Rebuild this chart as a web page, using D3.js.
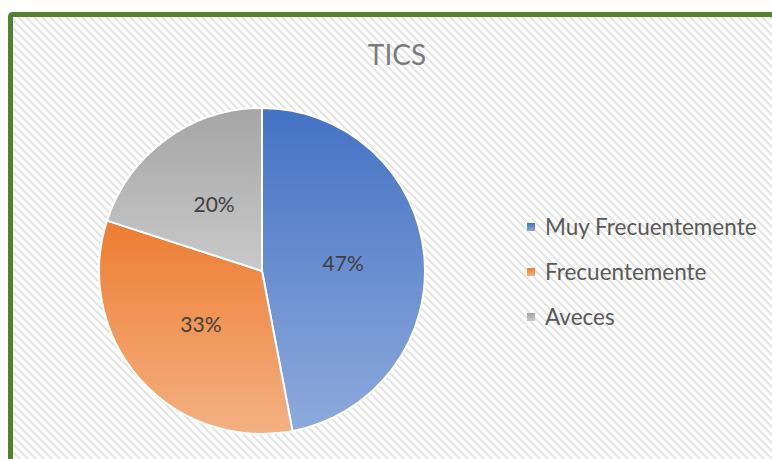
<!DOCTYPE html>
<html><head><meta charset="utf-8">
<script src="https://cdn.jsdelivr.net/npm/d3@7"></script>
<style>html,body{margin:0;padding:0;background:#fff;}svg{display:block;}</style>
</head><body>
<script>
const title = "TICS";
const categories = ["Muy Frecuentemente", "Frecuentemente", "Aveces"];
const values = [47, 33, 20];
const labels = ["47%", "33%", "20%"];
const topColors = ["#4472c4", "#ed7d31", "#a5a5a5"];
const bottomColors = ["#8eaadc", "#f4b183", "#c9c9c9"];

const W = 772, H = 459;
const FONT = "Lato, 'Open Sans', sans-serif";
const svg = d3.select("body").append("svg").attr("width", W).attr("height", H);
const defs = svg.append("defs");

// hatch pattern (wide downward diagonal)
const pat = defs.append("pattern").attr("id", "hatch").attr("patternUnits", "userSpaceOnUse")
  .attr("width", 8).attr("height", 8);
pat.append("rect").attr("width", 8).attr("height", 8).attr("fill", "#ffffff");
const cells = [];
for (let y = 0; y < 8; y++) for (let x = 0; x < 8; x++) {
  if (((x - y) % 8 + 8) % 8 < 3) cells.push([x, y]);
}
pat.selectAll("rect.c").data(cells).join("rect").attr("class", "c")
  .attr("x", d => d[0]).attr("y", d => d[1]).attr("width", 1).attr("height", 1)
  .attr("fill", "#e6e6e6").attr("shape-rendering", "crispEdges");

categories.forEach((c, i) => {
  const g = defs.append("linearGradient").attr("id", "grad" + i)
    .attr("x1", 0).attr("y1", 0).attr("x2", 0).attr("y2", 1);
  g.append("stop").attr("offset", "0%").attr("stop-color", topColors[i]);
  g.append("stop").attr("offset", "100%").attr("stop-color", bottomColors[i]);
});

// chart area with green border
svg.append("rect").attr("x", 10.5).attr("y", 14.5).attr("width", 800).attr("height", 500)
  .attr("rx", 2).attr("fill", "url(#hatch)").attr("stroke", "#548235").attr("stroke-width", 5);

// title
svg.append("text").attr("x", 397).attr("y", 65).attr("text-anchor", "middle")
  .attr("font-family", FONT).attr("font-size", 28).attr("fill", "#7b7b7b").text(title);

// pie
const cx = 262, cy = 271, r = 163;
const pie = d3.pie().sort(null).value(d => d)(values);
const arc = d3.arc().innerRadius(0).outerRadius(r);
const g = svg.append("g").attr("transform", `translate(${cx},${cy})`);
g.selectAll("path").data(pie).join("path")
  .attr("d", arc).attr("fill", (d, i) => `url(#grad${i})`)
  .attr("stroke", "#ffffff").attr("stroke-width", 2).attr("stroke-linejoin", "round");
g.selectAll("text").data(pie).join("text")
  .attr("transform", d => `translate(${arc.centroid(d)})`)
  .attr("text-anchor", "middle").attr("dy", "0.35em")
  .attr("font-family", FONT).attr("font-size", 21).attr("fill", "#404040")
  .text((d, i) => labels[i]);

// legend
const ly = d3.scalePoint().domain(categories).range([227, 317]);
const leg = svg.append("g");
categories.forEach((c, i) => {
  const y = ly(c);
  leg.append("rect").attr("x", 527).attr("y", y - 4).attr("width", 8).attr("height", 8)
    .attr("fill", `url(#grad${i})`);
  leg.append("text").attr("x", 545).attr("y", y).attr("dy", "0.35em")
    .attr("font-family", FONT).attr("font-size", 22.5).attr("fill", "#595959").text(c);
});
</script>
</body></html>
